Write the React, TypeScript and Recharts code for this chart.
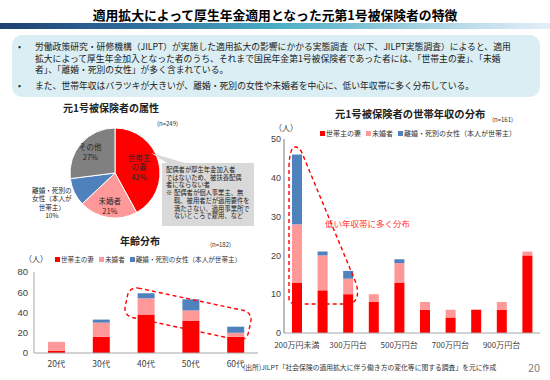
import { BarChart, Bar, XAxis, YAxis, PieChart, Pie, Cell } from 'recharts'

const FONT = '"Noto Sans CJK JP", "Noto Sans", sans-serif'
const NUM_FONT = '"Liberation Sans", "Noto Sans CJK JP", sans-serif'

const seriesNames = ['世帯主の妻', '未婚者', '離婚・死別の女性（本人が世帯主）']
const seriesColors = ['#FF0000', '#FF9999', '#4F81BD']

const ageLabels = ['20代', '30代', '40代', '50代', '60代']
const ageWife = [2, 16, 38, 32, 16]
const ageSingle = [9, 14, 16, 10, 4]
const ageDivorced = [0, 3, 5, 11, 6]
const ageTicks = [0, 20, 40, 60, 80]

const incomeLabels = [
  '200万円未満', '200万円台', '300万円台', '400万円台', '500万円台',
  '600万円台', '700万円台', '800万円台', '900万円台', '1000万円以上',
]
const incomeWife = [13, 11, 10, 8, 13, 6, 4, 6, 6, 20]
const incomeSingle = [15, 9, 4, 2, 5, 2, 2, 0, 2, 1]
const incomeDivorced = [18, 1, 2, 0, 1, 0, 0, 0, 0, 0]
const incomeTicks = [0, 10, 20, 30, 40, 50]

const pieNames = ['世帯主の妻', '未婚者', '離婚・死別の女性（本人が世帯主）', 'その他']
const pieShares = [42, 21, 10, 27]
const pieColors = ['#FF0000', '#FF9999', '#4F81BD', '#808080']
const pieLabelLines = [['世帯主', 'の妻'], ['未婚者'], ['離婚・死別の', '女性（本人が', '世帯主）'], ['その他']]

const ageData = ageLabels.map((name, i) => ({
  name, wife: ageWife[i], single: ageSingle[i], divorced: ageDivorced[i],
}))
const incomeData = incomeLabels.map((name, i) => ({
  name, wife: incomeWife[i], single: incomeSingle[i], divorced: incomeDivorced[i],
}))
const pieData = pieNames.map((name, i) => ({ name, value: pieShares[i] }))

const labelRadius = [0.55, 0.73, 1.55, 0.73]

function renderPieLabel(props: any) {
  const { cx, cy, midAngle, outerRadius, index } = props
  const rad = Math.PI / 180
  const r = outerRadius * labelRadius[index]
  const x = cx + r * Math.cos(-midAngle * rad)
  const y = cy + r * Math.sin(-midAngle * rad)
  const lines = [...pieLabelLines[index], `${pieShares[index]}%`]
  const lh = index === 2 ? 8.5 : 9.5
  const top = y - ((lines.length - 1) * lh) / 2
  return (
    <text x={x} y={top} textAnchor='middle' fontSize={index === 2 ? 6.6 : 7.5} fill='#262626' fontFamily={FONT}>
      {lines.map((l, i) => (
        <tspan key={i} x={x} y={top + i * lh} dominantBaseline='central'>{l}</tspan>
      ))}
    </text>
  )
}

function LegendRow({ left, top, size }: { left: number; top: number; size: number }) {
  return (
    <div style={{ position: 'absolute', left, top, display: 'flex', gap: 5, fontSize: size, color: '#333', whiteSpace: 'nowrap', lineHeight: 1 }}>
      {seriesNames.map((n, i) => (
        <span key={n} style={{ display: 'flex', alignItems: 'center' }}>
          <span style={{ width: 5, height: 5, background: seriesColors[i], marginRight: 1 }} />
          {n}
        </span>
      ))}
    </div>
  )
}

const abs = (left: number, top: number, extra: any = {}) => ({ position: 'absolute' as const, left, top, whiteSpace: 'nowrap' as const, ...extra })

export default function App() {
  const tick = { fontSize: 9.5, fill: '#404040', fontFamily: NUM_FONT }
  const tickSmall = { fontSize: 9, fill: '#404040', fontFamily: NUM_FONT }
  const xtick = { fontSize: 8.5, fill: '#404040', fontFamily: FONT }
  const xtickSmall = { fontSize: 8, fill: '#404040', fontFamily: FONT }
  return (
    <div style={{ position: 'absolute', left: 0, top: 0, width: 550, height: 380, background: '#fff', fontFamily: FONT, overflow: 'hidden' }}>
      <div style={abs(0, 5, { width: 550, textAlign: 'center', fontSize: 12.8, fontWeight: 700, color: '#000' })}>
        適用拡大によって厚生年金適用となった元第1号被保険者の特徴
      </div>
      <div style={abs(0, 23, { width: 550, height: 6, background: 'linear-gradient(90deg, #1F3F73 0%, #2F6E9E 25%, #4BACC6 50%, #9FD0E0 75%, #E4EEF8 100%)' })} />
      <div style={abs(12, 35, { width: 528, height: 62, background: '#DAEEF3', borderRadius: 10 })} />
      <div style={abs(18, 41, { fontSize: 8.8, lineHeight: '11.5px', color: '#222' })}>
        <div style={{ display: 'flex' }}>
          <span style={{ width: 17 }}>•</span>
          <span>
            労働政策研究・研修機構（JILPT）が実施した適用拡大の影響にかかる実態調査（以下、JILPT実態調査）によると、適用<br />
            拡大によって厚生年金加入となった者のうち、それまで国民年金第1号被保険者であった者には、「世帯主の妻」、「未婚<br />
            者」、「離婚・死別の女性」が多く含まれている。
          </span>
        </div>
        <div style={{ display: 'flex', marginTop: 4 }}>
          <span style={{ width: 17 }}>•</span>
          <span>また、世帯年収はバラツキが大きいが、離婚・死別の女性や未婚者を中心に、低い年収帯に多く分布している。</span>
        </div>
      </div>

      {/* pie */}
      <div style={abs(63, 100, { fontSize: 10, fontWeight: 700, color: '#222' })}>元1号被保険者の属性</div>
      <div style={abs(157, 119, { fontSize: 6, color: '#333' })}>(n=249)</div>
      <div style={abs(20, 113)}>
        <PieChart width={180} height={112}>
          <Pie data={pieData} dataKey='value' cx={90} cy={55} outerRadius={45} startAngle={90} endAngle={-270}
            stroke='#fff' strokeWidth={1} label={renderPieLabel} labelLine={false} isAnimationActive={false}>
            {pieData.map((d, i) => <Cell key={d.name} fill={pieColors[i]} />)}
          </Pie>
        </PieChart>
      </div>
      <svg width={550} height={380} style={abs(0, 0, { pointerEvents: 'none' })}>
        <polygon points='151,153 167,163 185,163' fill='#D9D9D9' />
      </svg>
      <div style={abs(162, 163, { width: 92, height: 63, background: '#D9D9D9', boxSizing: 'border-box', padding: '3px 4px', fontSize: 6.3, lineHeight: '7.7px', color: '#222' })}>
        配偶者が厚生年金加入者<br />ではないため、被扶養配偶<br />者にならない者
        <div style={{ display: 'flex' }}>
          <span style={{ width: 8 }}>※</span>
          <span>配偶者が個人事業主、無<br />職、被用者だが適用要件を<br />満たさない、適用事業所で<br />ないところで雇用、など</span>
        </div>
      </div>

      {/* age distribution */}
      <div style={abs(120, 233, { fontSize: 10, fontWeight: 700, color: '#222' })}>年齢分布</div>
      <div style={abs(210, 240, { fontSize: 6, color: '#333' })}>(n=182)</div>
      <div style={abs(24, 253, { fontSize: 8, color: '#333' })}>（人）</div>
      <LegendRow left={55} top={256} size={6.6} />
      <div style={abs(0, 262)}>
        <BarChart width={262} height={110} data={ageData} margin={{ top: 10, right: 4, bottom: 1, left: 0 }}>
          <XAxis dataKey='name' height={18} tick={xtick} tickLine={false} tickSize={0} tickMargin={8} axisLine={{ stroke: '#A6A6A6' }} />
          <YAxis width={34} domain={[0, 80]} ticks={ageTicks} tick={tick} tickLine={false} tickSize={0} tickMargin={6} axisLine={{ stroke: '#A6A6A6' }} />
          <Bar dataKey='wife' stackId='a' fill={seriesColors[0]} barSize={17} isAnimationActive={false} />
          <Bar dataKey='single' stackId='a' fill={seriesColors[1]} barSize={17} isAnimationActive={false} />
          <Bar dataKey='divorced' stackId='a' fill={seriesColors[2]} barSize={17} isAnimationActive={false} />
        </BarChart>
      </div>

      {/* income distribution */}
      <div style={abs(335, 106, { fontSize: 10.3, fontWeight: 700, color: '#222' })}>元1号被保険者の世帯年収の分布</div>
      <div style={abs(492, 115, { fontSize: 6, color: '#333' })}>(n=161)</div>
      <div style={abs(274, 122, { fontSize: 8, color: '#333' })}>（人）</div>
      <LegendRow left={320} top={130} size={7} />
      <div style={abs(262, 130)}>
        <BarChart width={285} height={222} data={incomeData} margin={{ top: 9, right: 7, bottom: 1, left: 0 }}>
          <XAxis dataKey='name' height={18} interval={1} tick={xtickSmall} tickLine={false} tickSize={0} tickMargin={9} axisLine={{ stroke: '#A6A6A6' }} />
          <YAxis width={22} domain={[0, 50]} ticks={incomeTicks} tick={tickSmall} tickLine={false} tickSize={0} tickMargin={3} axisLine={{ stroke: '#A6A6A6', strokeWidth: 1.5 }} />
          <Bar dataKey='wife' stackId='a' fill={seriesColors[0]} barSize={10} isAnimationActive={false} />
          <Bar dataKey='single' stackId='a' fill={seriesColors[1]} barSize={10} isAnimationActive={false} />
          <Bar dataKey='divorced' stackId='a' fill={seriesColors[2]} barSize={10} isAnimationActive={false} />
        </BarChart>
      </div>

      {/* annotations */}
      <svg width={550} height={380} style={abs(0, 0, { pointerEvents: 'none' })}>
        <rect x={125} y={299} width={126} height={30} rx={9} fill='none' stroke='#FF0000' strokeWidth={1.4} strokeDasharray='4 3'
          transform='rotate(12 188 314)' />
        <path d='M 289 300 L 289 165 Q 290 146 296 147 Q 300 148 302 153 L 356 283 Q 361 300 350 304 L 296 304 Q 289 304 289 298'
          fill='none' stroke='#FF0000' strokeWidth={1.4} strokeDasharray='4 3' />
        <text x={325} y={227} fontSize={8.5} fill='#FF3333' fontFamily={FONT}>低い年収帯に多く分布</text>
      </svg>

      <div style={abs(243, 362, { fontSize: 6.8, color: '#333' })}>(出所)JILPT「社会保険の適用拡大に伴う働き方の変化等に関する調査」を元に作成</div>
      <div style={abs(528, 359, { fontSize: 11, color: '#7F7F7F' })}>20</div>
    </div>
  )
}
